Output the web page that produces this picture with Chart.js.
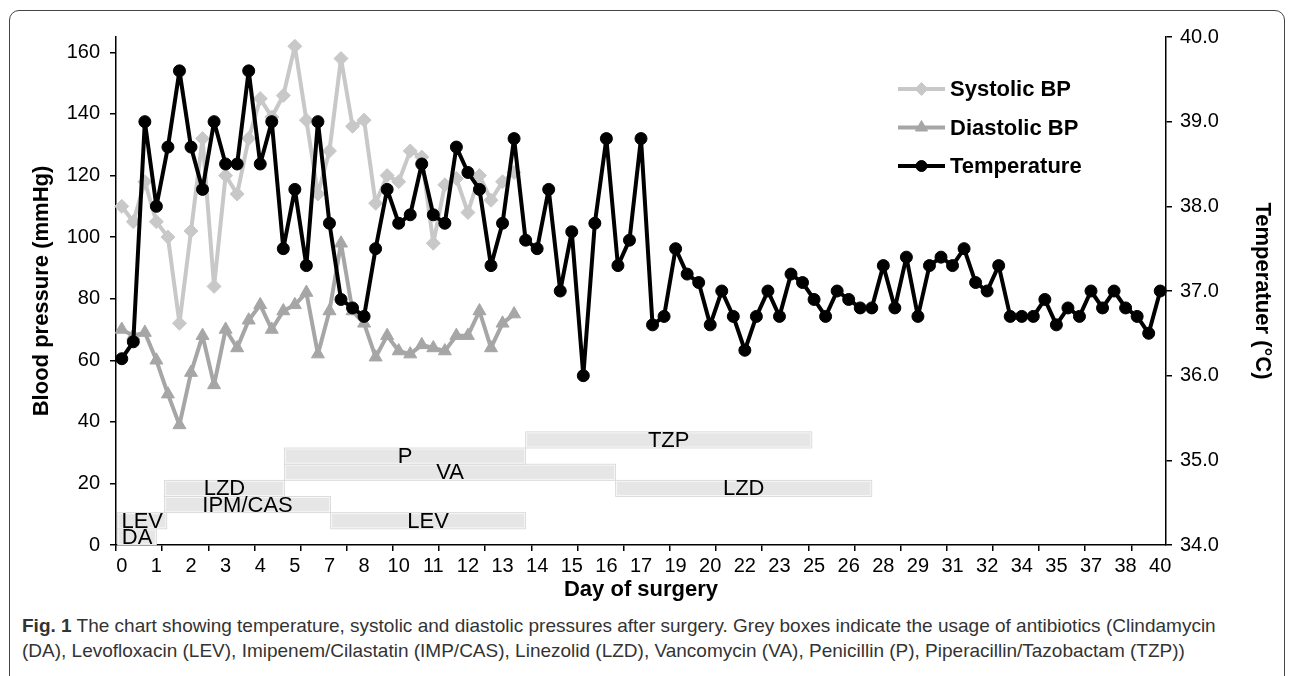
<!DOCTYPE html>
<html>
<head>
<meta charset="utf-8">
<script src="https://cdn.jsdelivr.net/npm/chart.js@4"></script>
<style>
  body { margin: 0; background: #fff; }
  #frame { position: absolute; left: 9px; top: 10px; width: 1274px; height: 700px; border: 1px solid #444; border-radius: 10px; }
  #wrap { position: absolute; left: 0; top: 0; width: 1293px; height: 605px; }
  #caption { position: absolute; left: 22px; top: 613px; font: 19px "Liberation Sans", Arial, sans-serif; color: #333; line-height: 25px; white-space: nowrap; }
</style>
</head>
<body>
<div id="frame"></div>
<div id="wrap"><canvas id="grafico" width="1293" height="605"></canvas></div>
<div id="caption"><b>Fig. 1</b> The chart showing temperature, systolic and diastolic pressures after surgery. Grey boxes indicate the usage of antibiotics (Clindamycin<br>(DA), Levofloxacin (LEV), Imipenem/Cilastatin (IMP/CAS), Linezolid (LZD), Vancomycin (VA), Penicillin (P), Piperacillin/Tazobactam (TZP))</div>
<script>
// day labels shown under every 3rd measurement
const dayTicks = ["0", "1", "2", "3", "4", "5", "7", "8", "10", "11", "12", "13", "14", "15", "16",
  "17", "19", "20", "22", "23", "25", "26", "28", "29", "31", "32", "34", "35", "37", "38", "40"];

const temperature = [36.2, 36.4, 39.0, 38.0, 38.7, 39.6, 38.7, 38.2, 39.0, 38.5,
  38.5, 39.6, 38.5, 39.0, 37.5, 38.2, 37.3, 39.0, 37.8, 36.9,
  36.8, 36.7, 37.5, 38.2, 37.8, 37.9, 38.5, 37.9, 37.8, 38.7,
  38.4, 38.2, 37.3, 37.8, 38.8, 37.6, 37.5, 38.2, 37.0, 37.7,
  36.0, 37.8, 38.8, 37.3, 37.6, 38.8, 36.6, 36.7, 37.5, 37.2,
  37.1, 36.6, 37.0, 36.7, 36.3, 36.7, 37.0, 36.7, 37.2, 37.1,
  36.9, 36.7, 37.0, 36.9, 36.8, 36.8, 37.3, 36.8, 37.4, 36.7,
  37.3, 37.4, 37.3, 37.5, 37.1, 37.0, 37.3, 36.7, 36.7, 36.7,
  36.9, 36.6, 36.8, 36.7, 37.0, 36.8, 37.0, 36.8, 36.7, 36.5, 37.0];

const systolic = [110, 105, 118, 105, 100, 72, 102, 132, 84, 120,
  114, 132, 145, 139, 146, 162, 138, 114, 128, 158,
  136, 138, 111, 120, 118, 128, 126, 98, 117, 119,
  108, 120, 112, 118, 121];

const diastolic = [70, 68, 69, 60, 49, 39, 56, 68, 52, 70,
  64, 73, 78, 70, 76, 78, 82, 62, 76, 98,
  76, 72, 61, 68, 63, 62, 65, 64, 63, 68,
  68, 76, 64, 72, 75];

// antibiotic boxes: start/end in measurement index, low/high in mmHg
const abxNames = ["DA", "LEV", "IPM/CAS", "LZD", "VA", "P", "TZP", "LEV", "LZD"];
const abxStart = [-0.35, -0.35, 3.7, 3.7, 14.1, 14.1, 35.0, 18.1, 42.8];
const abxEnd = [3.0, 3.9, 18.1, 14.1, 42.8, 35.0, 59.8, 35.0, 65.0];
const abxLow = [0, 5.25, 10.5, 15.75, 21, 26.25, 31.5, 5.25, 15.75];
const abxHigh = [5.25, 10.5, 15.75, 21, 26.25, 31.5, 36.75, 10.5, 21];

const labels = temperature.map((t, i) => (i % 3 === 0 ? dayTicks[i / 3] : ""));

const fonte = '"Liberation Sans", Arial, sans-serif';
Chart.defaults.font.family = fonte;
Chart.defaults.color = "#000";

// caixas cinzentas dos antibióticos
const caixas = {
  id: "caixas",
  beforeDatasetsDraw(chart) {
    const { ctx, scales } = chart;
    const x = scales.x, y = scales.y;
    ctx.save();
    abxNames.forEach((nome, i) => {
      const x0 = x.getPixelForValue(abxStart[i]);
      const x1 = x.getPixelForValue(abxEnd[i]);
      const y0 = y.getPixelForValue(abxHigh[i]);
      const y1 = y.getPixelForValue(abxLow[i]);
      ctx.fillStyle = "#e6e6e6";
      ctx.fillRect(x0, y0, x1 - x0, y1 - y0);
      ctx.strokeStyle = "#f6f6f6";
      ctx.lineWidth = 1.5;
      ctx.strokeRect(x0 + 0.75, y0 + 0.75, x1 - x0 - 1.5, y1 - y0 - 1.5);
      ctx.strokeStyle = "#d8d8d8";
      ctx.lineWidth = 0.8;
      ctx.strokeRect(x0, y0, x1 - x0, y1 - y0);
    });
    ctx.fillStyle = "#000";
    ctx.font = "22px " + fonte;
    ctx.textAlign = "center";
    ctx.textBaseline = "middle";
    abxNames.forEach((nome, i) => {
      const cx = (x.getPixelForValue(abxStart[i]) + x.getPixelForValue(abxEnd[i])) / 2;
      const cy = (y.getPixelForValue(abxHigh[i]) + y.getPixelForValue(abxLow[i])) / 2;
      ctx.fillText(nome, cx, cy + 1);
    });
    ctx.restore();
  }
};

// legenda dentro do gráfico
const legenda = {
  id: "legenda",
  afterDraw(chart) {
    const ctx = chart.ctx;
    const ordem = [1, 2, 0];
    ctx.save();
    ordem.forEach((di, k) => {
      const ds = chart.data.datasets[di];
      const ly = 89 + k * 38.5;
      ctx.strokeStyle = ds.borderColor;
      ctx.lineWidth = 4;
      ctx.beginPath();
      ctx.moveTo(898, ly);
      ctx.lineTo(945, ly);
      ctx.stroke();
      ctx.fillStyle = ds.backgroundColor;
      ctx.lineWidth = 1;
      Chart.helpers.drawPoint(ctx, { pointStyle: ds.pointStyle, radius: ds.pointRadius - 0.5, borderWidth: 1 }, 921.5, ly);
      ctx.fillStyle = "#000";
      ctx.font = "bold 22px " + fonte;
      ctx.textAlign = "left";
      ctx.textBaseline = "middle";
      ctx.fillText(ds.label, 950, ly + 1);
    });
    ctx.restore();
  }
};

new Chart(document.getElementById("grafico"), {
  type: "line",
  data: {
    labels: labels,
    datasets: [
      {
        label: "Temperature",
        data: temperature,
        yAxisID: "y2",
        borderColor: "#000",
        backgroundColor: "#000",
        borderWidth: 4,
        borderJoinStyle: "round",
        pointStyle: "circle",
        pointRadius: 6,
        pointBorderWidth: 1,
        tension: 0,
        order: 0
      },
      {
        label: "Systolic BP",
        data: systolic,
        yAxisID: "y",
        borderColor: "#c8c8c8",
        backgroundColor: "#c8c8c8",
        borderWidth: 4,
        borderJoinStyle: "round",
        pointStyle: "rectRot",
        pointRadius: 7,
        pointBorderWidth: 1,
        tension: 0,
        order: 2
      },
      {
        label: "Diastolic BP",
        data: diastolic,
        yAxisID: "y",
        borderColor: "#a6a6a6",
        backgroundColor: "#a6a6a6",
        borderWidth: 4,
        borderJoinStyle: "round",
        pointStyle: "triangle",
        pointRadius: 7.5,
        pointBorderWidth: 1,
        tension: 0,
        order: 1
      }
    ]
  },
  options: {
    responsive: false,
    animation: false,
    devicePixelRatio: 1,
    layout: { padding: { top: 37, left: 0, right: 0, bottom: 0 } },
    plugins: {
      legend: { display: false },
      tooltip: { enabled: false }
    },
    scales: {
      x: {
        type: "category",
        offset: true,
        grid: {
          offset: true,
          drawOnChartArea: false,
          tickLength: 6,
          lineWidth: 1.5,
          color: (c) => (c.index % 4 === 0 ? "#000" : "rgba(0,0,0,0)")
        },
        border: { color: "#000", width: 1.5 },
        ticks: { autoSkip: false, maxRotation: 0, padding: 3, font: { size: 20 } },
        title: { display: true, text: "Day of surgery", font: { size: 22, weight: "bold" }, padding: { top: 0, bottom: 2 } },
        afterFit: (s) => { s.height = 60; }
      },
      y: {
        position: "left",
        min: 0,
        max: 165,
        grid: { drawOnChartArea: false, tickLength: 6, lineWidth: 1.5, color: "#000" },
        border: { color: "#000", width: 1.5 },
        ticks: { stepSize: 20, includeBounds: false, padding: 10, font: { size: 20 } },
        title: { display: true, text: "Blood pressure (mmHg)", font: { size: 22, weight: "bold" }, padding: { top: 29 } },
        afterFit: (s) => { s.width = 116; }
      },
      y2: {
        position: "right",
        min: 34,
        max: 40,
        grid: { drawOnChartArea: false, tickLength: 6, lineWidth: 1.5, color: "#000" },
        border: { color: "#000", width: 1.5 },
        ticks: { stepSize: 1, padding: 8, font: { size: 20 }, callback: (v) => Number(v).toFixed(1) },
        title: { display: true, text: "Temperatuer (°C)", font: { size: 22, weight: "bold" }, padding: { top: 18 } },
        afterFit: (s) => { s.width = 127; }
      }
    }
  },
  plugins: [caixas, legenda]
});
</script>
</body>
</html>
